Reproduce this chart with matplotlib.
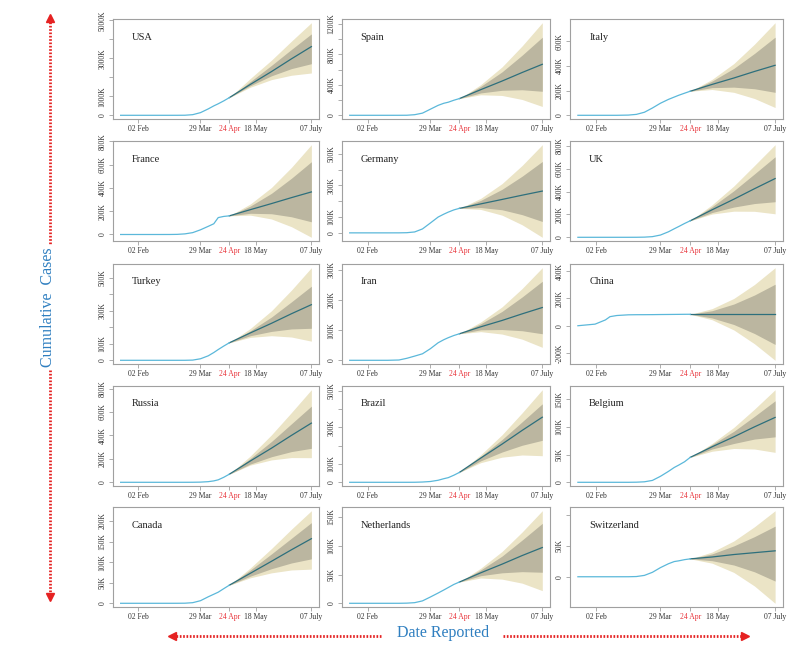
import matplotlib
matplotlib.use("Agg")
import matplotlib.pyplot as plt
import pandas as pd

plt.rcParams['font.family'] = ['Liberation Serif', 'DejaVu Serif']

# all case counts in thousands
countries = ['USA', 'Spain', 'Italy', 'France', 'Germany', 'UK',
             'Turkey', 'Iran', 'China', 'Russia', 'Brazil', 'Belgium',
             'Canada', 'Netherlands', 'Switzerland']

obs_dates = pd.to_datetime(['2020-01-17', '2020-02-01', '2020-02-10', '2020-02-14', '2020-02-20',
                            '2020-03-01', '2020-03-08', '2020-03-15', '2020-03-22', '2020-03-29',
                            '2020-04-05', '2020-04-10', '2020-04-14', '2020-04-19', '2020-04-24'])
obs_cases = [
    [0, 0.008, 0.011, 0.013, 0.015, 0.03, 0.5, 3.5, 33, 140, 337, 496, 607, 760, 930],
    [0, 0, 0.002, 0.002, 0.002, 0.084, 0.67, 7.8, 28.6, 80, 131, 158, 172, 198, 220],
    [0, 0, 0.003, 0.003, 0.003, 1.7, 7.4, 24.7, 59.1, 97.7, 128.9, 147.6, 162.5, 178.9, 195],
    [0, 0.006, 0.011, 0.011, 0.012, 0.13, 1.1, 5.4, 16, 40.2, 70, 92, 145, 155, 160],
    [0, 0.008, 0.016, 0.016, 0.016, 0.13, 1.04, 5.8, 24.9, 62.1, 100, 118, 131, 145, 155],
    [0, 0, 0.008, 0.009, 0.009, 0.036, 0.27, 1.4, 5.7, 19.8, 48.4, 74.6, 94.8, 121, 145],
    [0, 0, 0, 0, 0, 0, 0, 0.047, 1.2, 9.2, 27.1, 47, 65.1, 86.3, 106],
    [0, 0, 0, 0, 0.005, 0.98, 6.6, 13.9, 21.6, 38.3, 58.2, 68.2, 74.9, 82.2, 88],
    [0.1, 11.8, 42.6, 66.5, 75, 80, 80.8, 81, 81.4, 82.1, 82.6, 83, 83.3, 83.8, 84],
    [0, 0, 0, 0, 0, 0, 0.017, 0.063, 0.367, 1.5, 5.4, 11.9, 21.1, 42.8, 69],
    [0, 0, 0, 0, 0, 0.002, 0.025, 0.2, 1.5, 4.3, 11.1, 19.6, 25.3, 38.6, 54],
    [0, 0, 0.001, 0.001, 0.001, 0.002, 0.2, 0.89, 3.4, 10.8, 19.7, 26.7, 31.1, 37, 45],
    [0, 0.004, 0.007, 0.007, 0.008, 0.024, 0.064, 0.25, 1.5, 6.3, 15.8, 22, 27, 35.6, 44],
    [0, 0, 0, 0, 0, 0.01, 0.27, 1.1, 4.2, 10.9, 17.9, 23.1, 27.4, 32.8, 37],
    [0, 0, 0, 0, 0, 0.024, 0.34, 2.2, 7.2, 14.8, 21.1, 24.6, 25.8, 27.7, 29],
]

fc_dates = pd.to_datetime(['2020-04-24', '2020-05-13', '2020-06-01', '2020-06-19', '2020-07-07'])
fc_mean = [
    [930, 1629, 2302, 2974, 3620], [220, 337, 450, 563, 671], [195, 250, 302, 355, 405],
    [160, 213, 265, 316, 365], [155, 183, 211, 238, 264], [145, 241, 334, 426, 515],
    [106, 166, 224, 282, 337], [88, 111, 132, 154, 175], [84, 84, 84, 84, 84],
    [69, 182, 291, 400, 505], [54, 132, 208, 283, 355], [45, 64, 82, 100, 117],
    [44, 73, 102, 130, 157], [37, 53, 68, 83, 97], [29, 32, 36, 39, 42],
]
fc_hi95 = [
    [930, 1944, 2907, 3906, 4880], [220, 403, 636, 913, 1218], [195, 291, 419, 576, 750],
    [160, 262, 403, 575, 770], [155, 218, 311, 426, 557], [145, 285, 450, 630, 812],
    [106, 193, 300, 425, 561], [88, 127, 177, 238, 307], [84, 125, 200, 302, 425],
    [69, 225, 405, 595, 790], [54, 150, 259, 379, 505], [45, 70, 99, 132, 167],
    [44, 86, 133, 180, 225], [37, 61, 90, 124, 161], [29, 40, 58, 81, 107],
]
fc_hi80 = [
    [930, 1780, 2630, 3470, 4290], [220, 380, 571, 791, 1027], [195, 277, 380, 501, 633],
    [160, 244, 353, 482, 624], [155, 205, 275, 358, 451], [145, 268, 408, 556, 706],
    [106, 179, 262, 354, 449], [88, 121, 162, 210, 262], [84, 110, 159, 225, 304],
    [69, 204, 348, 499, 650], [54, 141, 233, 330, 428], [45, 68, 92, 119, 147],
    [44, 81, 120, 158, 196], [37, 58, 82, 110, 139], [29, 37, 50, 65, 82],
]
fc_lo80 = [
    [930, 1560, 2080, 2460, 2720], [220, 294, 329, 336, 316], [195, 224, 228, 215, 186],
    [160, 182, 178, 152, 109], [155, 160, 146, 115, 72], [145, 217, 265, 296, 312],
    [106, 149, 175, 190, 194], [88, 101, 102, 98, 88], [84, 57, 9, -57, -137],
    [69, 156, 218, 262, 290], [54, 117, 165, 202, 229], [45, 60, 70, 78, 82],
    [44, 66, 84, 98, 108], [37, 48, 53, 55, 54], [29, 26, 19, 8, -7],
]
fc_lo95 = [
    [930, 1480, 1880, 2110, 2230], [220, 270, 261, 208, 116], [195, 209, 186, 136, 63],
    [160, 166, 133, 67, -24], [155, 148, 112, 51, -28], [145, 204, 229, 228, 206],
    [106, 139, 149, 141, 116], [88, 95, 87, 70, 43], [84, 44, -31, -132, -253],
    [69, 147, 191, 211, 210], [54, 107, 137, 149, 145], [45, 56, 61, 60, 54],
    [44, 62, 74, 81, 83], [37, 44, 42, 35, 22], [29, 22, 7, -15, -43],
]

ytick_vals = [
    [0, 1000, 2000, 3000, 4000, 5000], [0, 200, 400, 600, 800, 1000, 1200], [0, 200, 400, 600],
    [0, 200, 400, 600, 800], [0, 100, 200, 300, 400, 500], [0, 200, 400, 600, 800],
    [0, 100, 200, 300, 400, 500], [0, 100, 200, 300], [-200, 0, 200, 400],
    [0, 200, 400, 600, 800], [0, 100, 200, 300, 400, 500], [0, 50, 100, 150],
    [0, 50, 100, 150, 200], [0, 50, 100, 150], [0, 50, 100],
]
ytick_text = [
    ['0', '1000K', '', '3000K', '', '5000K'], ['0', '', '400K', '', '800K', '', '1200K'],
    ['0', '200K', '400K', '600K'], ['0', '200K', '400K', '600K', '800K'],
    ['0', '100K', '', '300K', '', '500K'], ['0', '200K', '400K', '600K', '800K'],
    ['0', '100K', '', '300K', '', '500K'], ['0', '100K', '200K', '300K'],
    ['-200K', '0', '200K', '400K'], ['0', '200K', '400K', '600K', '800K'],
    ['0', '100K', '', '300K', '', '500K'], ['0', '50K', '100K', '150K'],
    ['0', '50K', '100K', '150K', '200K'], ['0', '50K', '100K', '150K'], ['0', '50K', ''],
]

xtick_dates = pd.to_datetime(['2020-02-02', '2020-03-29', '2020-04-24', '2020-05-18', '2020-07-07'])
xtick_text = ['02 Feb', '29 Mar', '24 Apr', '18 May', '07 July']

obs_col = '#5bb8da'
mean_col = '#2d6f7c'
band95 = '#ebe4c6'
band80 = '#bbb6a0'
frame_col = '#a0a0a0'

W, H = 799, 656
fig = plt.figure(figsize=(W / 100, H / 100), dpi=100)

col_left = [113, 342, 570]
col_width = [206, 208, 213]
row_top = [19, 141, 264, 386, 507]
panel_h = 100

for i, name in enumerate(countries):
    r, c = divmod(i, 3)
    ax = fig.add_axes([col_left[c] / W, 1 - (row_top[r] + panel_h) / H,
                       col_width[c] / W, panel_h / H])
    ax.fill_between(fc_dates, fc_lo95[i], fc_hi95[i], color=band95, lw=0)
    ax.fill_between(fc_dates, fc_lo80[i], fc_hi80[i], color=band80, lw=0)
    ax.plot(fc_dates, fc_mean[i], color=mean_col, lw=0.9)
    ax.plot(obs_dates, obs_cases[i], color=obs_col, lw=0.9)
    ax.margins(x=0.04, y=0.04)

    ax.set_xticks(xtick_dates)
    ax.set_xticklabels(xtick_text)
    ax.set_yticks(ytick_vals[i])
    ax.set_yticklabels(ytick_text[i], rotation=90, va='center')
    ax.tick_params(labelsize=5.5, length=3, width=0.6, color=frame_col,
                   labelcolor='#333333', pad=1.5)
    ax.get_xticklabels()[2].set_color('#e8333a')   # forecast origin in red
    for sp in ax.spines.values():
        sp.set_color(frame_col)
        sp.set_linewidth(0.8)
    ax.text(0.09, 0.82, name, transform=ax.transAxes, fontsize=7.5,
            ha='left', va='center', color='#222222')

# outer labels with dotted red arrows
ov = fig.add_axes([0, 0, 1, 1], zorder=-1)
ov.set_xlim(0, W)
ov.set_ylim(H, 0)
ov.axis('off')
red = '#e52222'
dots = dict(color=red, lw=2, linestyle=(0, (0.6, 0.6)))

ov.plot([50, 50], [22, 244], **dots)
ov.plot([50, 50], [370, 594], **dots)
ov.plot(50, 18, marker='^', color=red, ms=6)
ov.plot(50, 597, marker='v', color=red, ms=6)
ov.text(48, 307, 'Cumulative  Cases', rotation=90, ha='center', va='center',
        fontsize=11.5, color='#2f7fc0')

ov.plot([176, 382], [636, 636], **dots)
ov.plot([503, 741], [636, 636], **dots)
ov.plot(172, 636, marker='<', color=red, ms=6)
ov.plot(745, 636, marker='>', color=red, ms=6)
ov.text(443, 633, 'Date Reported', ha='center', va='center',
        fontsize=11.5, color='#2f7fc0')

fig.savefig('out.png', dpi=100, facecolor='white')
